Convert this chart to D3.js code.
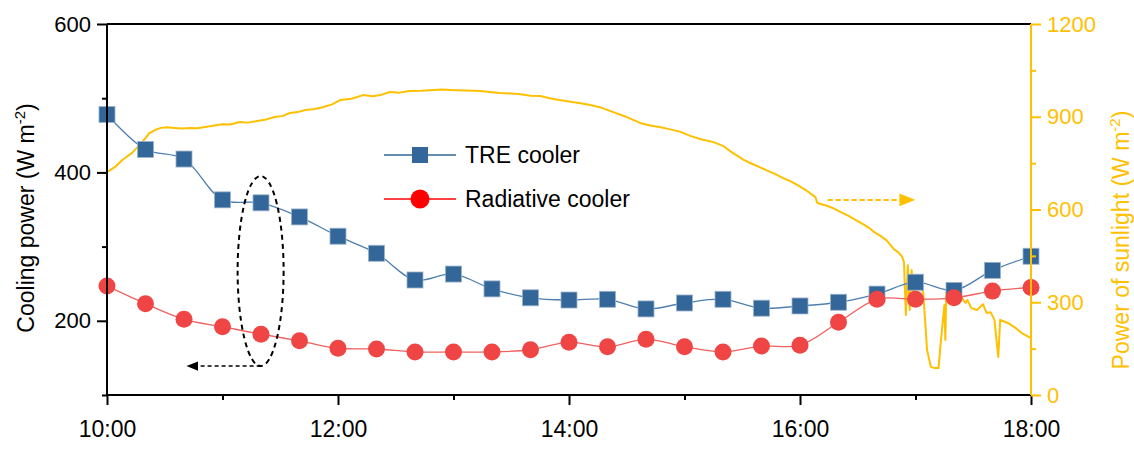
<!DOCTYPE html>
<html><head><meta charset="utf-8">
<script src="https://cdn.jsdelivr.net/npm/d3@7"></script>
<style>
body{margin:0;background:#fff;}
text{font-family:"Liberation Sans",Arial,sans-serif;}
</style></head>
<body><svg id="c" width="1134" height="449"></svg>
<script>
// ---- data ----
const coolerTimes = ["10:00","10:20","10:40","11:00","11:20","11:40","12:00","12:20","12:40","13:00","13:20","13:40","14:00","14:20","14:40","15:00","15:20","15:40","16:00","16:20","16:40","17:00","17:20","17:40","18:00"];
const treCooler = [478,431,418,363,359,340,314,291,255,263,243,231,228,229,216,224,229,217,220,225,236,252,241,268,287];
const radiativeCooler = [247,223,202,192,182,173,163,162,158,158,158,161,171,165,175,165,158,166,167,198,229,229,231,240,245];
// sunlight: minutes after 10:00 and power (W m-2)
const sunMinutes = [0,4,8,13,17,20,22,25,28,31,35,39,43,47,51,55,60,64,69,73,78,82,87,91,95,99,103,108,112,117,121,127,133,138,142,147,152,157,163,168,174,181,187,194,199,204,210,215,220,225,230,235,240,246,251,256,263,270,277,282,287,292,298,303,308,315,320,325,331,335,339,343,347,351,355,359,363,368,369,373,377,381,385,389,393,396,399,402,405,407,409,411,413,414,415,416,417,418,419,421,422,424,426,428,430,432,433,435,435.5,436,438,441,443,446,447,449,452,455,457,459,461,463,464,468,472,475,480];
const sunPower = [721,737,760,783,809,831,847,857,864,866,864,862,864,863,867,871,876,875,883,881,886,890,899,902,912,915,922,925,931,940,954,958,970,966,970,980,978,983,984,986,988,986,985,983,980,977,975,973,968,967,960,954,949,944,938,931,915,899,880,872,867,860,851,838,828,818,806,783,760,748,737,726,715,702,692,678,663,640,621,614,605,592,580,566,552,540,525,514,500,485,470,462,448,430,259,420,275,404,307,388,356,333,146,91,87,87,162,291,178,333,346,340,323,298,307,281,275,294,265,268,243,123,243,233,217,201,184];
const leftTicks = [200,400,600], leftMinor = [100,300,500];
const rightTicks = [0,300,600,900,1200], rightMinor = [150,450,750,1050];
const xTickLabels = ["10:00","12:00","14:00","16:00","18:00"];
const xMajor = [10,12,14,16,18], xMinor = [11,13,15,17];

// ---- layout ----
const svg = d3.select("#c");
const L=107, R=1031, T=24, B=395;
const x = d3.scaleLinear().domain([10,18]).range([L,R]);
const yL = d3.scaleLinear().domain([100,600]).range([B,T]);
const yR = d3.scaleLinear().domain([0,1200]).range([B,T]);
const hr = s => { const [h,m]=s.split(":").map(Number); return h+m/60; };
const YEL="#FFC000", BLUE="#336699", RED="#F04545";
const FONT="Liberation Sans, Arial, sans-serif";

// sunlight line
svg.append("path")
  .datum(sunMinutes.map((m,i)=>[10+m/60, sunPower[i]]))
  .attr("fill","none").attr("stroke",YEL).attr("stroke-width",2).attr("stroke-linejoin","round")
  .attr("d", d3.line().x(d=>x(d[0])).y(d=>yR(d[1])));

// cooler lines
const lineL = d3.line().x(d=>x(d[0])).y(d=>yL(d[1])).curve(d3.curveCatmullRom.alpha(0.5));
const treData = coolerTimes.map((t,i)=>[hr(t), treCooler[i]]);
const radData = coolerTimes.map((t,i)=>[hr(t), radiativeCooler[i]]);
svg.append("path").datum(treData).attr("fill","none").attr("stroke","#4F7FAF").attr("stroke-width",1.3).attr("d",lineL);
svg.append("path").datum(radData).attr("fill","none").attr("stroke","#F06060").attr("stroke-width",1.3).attr("d",lineL);

// markers
svg.selectAll(".sq").data(treData).enter().append("rect")
  .attr("x",d=>x(d[0])-8).attr("y",d=>yL(d[1])-8).attr("width",16).attr("height",16)
  .attr("fill",BLUE).attr("stroke","#9bb3cc").attr("stroke-width",0.8);
svg.selectAll(".ci").data(radData).enter().append("circle")
  .attr("cx",d=>x(d[0])).attr("cy",d=>yL(d[1])).attr("r",8.5)
  .attr("fill",RED);

// left axis
const la = svg.append("g").attr("transform",`translate(${L},0)`)
  .call(d3.axisLeft(yL).tickValues(leftTicks).tickSize(10).tickPadding(6));
la.append("g").call(d3.axisLeft(yL).tickValues(leftMinor).tickSize(5).tickFormat(""));
la.selectAll("path").remove();
la.append("line").attr("y1",T).attr("y2",B).attr("stroke","#000").attr("stroke-width",2);
la.selectAll("line").attr("stroke","#000").attr("stroke-width",2);
la.selectAll("text").attr("font-size",22).attr("fill","#000").attr("font-family",FONT);

// bottom axis
const ba = svg.append("g").attr("transform",`translate(0,${B})`)
  .call(d3.axisBottom(x).tickValues(xMajor).tickSize(10).tickPadding(16).tickFormat((d,i)=>xTickLabels[i]));
ba.append("g").call(d3.axisBottom(x).tickValues(xMinor).tickSize(5).tickFormat(""));
ba.selectAll("path").remove();
ba.append("line").attr("x1",L).attr("x2",R).attr("stroke","#000").attr("stroke-width",2);
ba.selectAll("line").attr("stroke","#000").attr("stroke-width",2);
ba.selectAll("text").attr("font-size",23).attr("fill","#000").attr("font-family",FONT);

// top border
svg.append("line").attr("x1",L).attr("x2",R).attr("y1",T).attr("y2",T).attr("stroke","#000").attr("stroke-width",2);

// right axis
const ra = svg.append("g").attr("transform",`translate(${R},0)`)
  .call(d3.axisRight(yR).tickValues(rightTicks).tickSize(10).tickPadding(6).tickFormat(d3.format("d")));
ra.append("g").call(d3.axisRight(yR).tickValues(rightMinor).tickSize(5).tickFormat(""));
ra.selectAll("path").remove();
ra.append("line").attr("y1",T).attr("y2",B).attr("stroke",YEL).attr("stroke-width",2);
ra.selectAll("line").attr("stroke",YEL).attr("stroke-width",2);
ra.selectAll("text").attr("font-size",22).attr("fill",YEL).attr("font-family",FONT);

// axis titles
function title(tx, ty, label, color){
  const t = svg.append("text").attr("transform",`translate(${tx},${ty}) rotate(-90)`)
    .attr("text-anchor","middle").attr("font-size",23).attr("fill",color);
  t.append("tspan").text(label+" (W m");
  t.append("tspan").text("-2").attr("font-size",15).attr("dy",-9);
  t.append("tspan").text(")").attr("dy",9);
}
title(34, 218, "Cooling power", "#000");
title(1129, 240, "Power of sunlight", YEL);

// legend
const lg = svg.append("g");
lg.append("line").attr("x1",384).attr("x2",456).attr("y1",155).attr("y2",155).attr("stroke",BLUE).attr("stroke-width",1.5);
lg.append("rect").attr("x",420-8).attr("y",155-8).attr("width",16).attr("height",16).attr("fill",BLUE);
lg.append("text").attr("x",465).attr("y",163).attr("font-size",23).text("TRE cooler");
lg.append("line").attr("x1",384).attr("x2",456).attr("y1",199).attr("y2",199).attr("stroke","#FF0000").attr("stroke-width",1.5);
lg.append("circle").attr("cx",420).attr("cy",199).attr("r",9.5).attr("fill","#FF0000");
lg.append("text").attr("x",465).attr("y",207).attr("font-size",23).text("Radiative cooler");

// annotations
svg.append("ellipse").attr("cx",x(11.33)).attr("cy",(yL(395)+yL(139))/2)
  .attr("rx",23).attr("ry",(yL(139)-yL(395))/2)
  .attr("fill","none").attr("stroke","#000").attr("stroke-width",2).attr("stroke-dasharray","5,4");
const defs = svg.append("defs");
defs.append("marker").attr("id","ab").attr("viewBox","0 0 10 10").attr("refX",5).attr("refY",5)
  .attr("markerWidth",8).attr("markerHeight",8).attr("orient","auto")
  .append("path").attr("d","M0,1 L10,5 L0,9 z").attr("fill","#000");
defs.append("marker").attr("id","ay").attr("viewBox","0 0 10 10").attr("refX",5).attr("refY",5)
  .attr("markerWidth",8).attr("markerHeight",8).attr("orient","auto")
  .append("path").attr("d","M0,1 L10,5 L0,9 z").attr("fill",YEL);
svg.append("line").attr("x1",x(11.33)).attr("x2",x(10.74)).attr("y1",yL(139)).attr("y2",yL(139))
  .attr("stroke","#000").attr("stroke-width",1.5).attr("stroke-dasharray","4,3").attr("marker-end","url(#ab)");
svg.append("line").attr("x1",x(16.24)).attr("x2",x(16.93)).attr("y1",yR(631)).attr("y2",yR(631))
  .attr("stroke",YEL).attr("stroke-width",2).attr("stroke-dasharray","5,3").attr("marker-end","url(#ay)");
</script></body></html>
